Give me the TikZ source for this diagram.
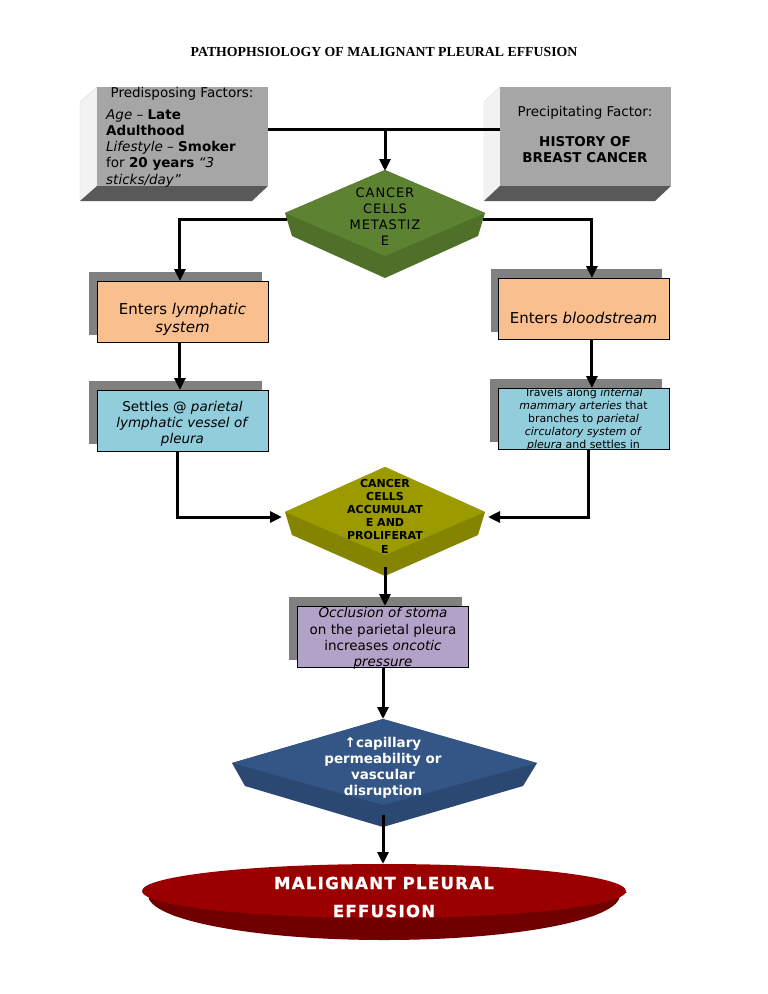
\documentclass[tikz,border=0pt]{standalone}
\usepackage{fontspec}
\setmainfont{DejaVu Sans}
\newfontfamily\titlefont{Liberation Serif}
\newfontfamily\spacedfont[LetterSpace=7]{DejaVu Sans}
\newfontfamily\widefont[LetterSpace=8,FakeBold=1.2]{DejaVu Sans Bold}
\usetikzlibrary{arrows.meta}
\definecolor{facegray}{RGB}{166,166,166}
\definecolor{darkside}{RGB}{89,89,89}
\definecolor{lightside}{RGB}{242,242,242}
\definecolor{shadowgray}{RGB}{128,128,128}
\definecolor{peach}{RGB}{250,191,143}
\definecolor{lblue}{RGB}{146,205,220}
\definecolor{lpurple}{RGB}{179,162,199}
\definecolor{greentop}{RGB}{92,130,50}
\definecolor{greenlow}{RGB}{78,112,40}
\definecolor{olivetop}{RGB}{155,155,0}
\definecolor{olivelow}{RGB}{132,132,0}
\definecolor{bluetop}{RGB}{52,86,134}
\definecolor{bluelow}{RGB}{42,72,114}
\definecolor{redtop}{RGB}{155,0,0}
\definecolor{redlow}{RGB}{112,0,0}
\begin{document}
\begin{tikzpicture}[x=1pt,y=-1pt,
  face/.style={draw=none,fill=facegray,inner sep=0pt,anchor=north west},
  flatbox/.style={draw=black,line width=0.8pt,inner sep=0pt,anchor=north west,
    minimum width=171pt,minimum height=61pt},
  shadowbox/.style={fill=shadowgray,draw=none},
  conn/.style={line width=3pt,draw=black},
  arr/.style={line width=3pt,draw=black,-{Triangle[length=12pt,width=11pt]}},
  txt/.style={inner sep=0pt,font=\fontsize{13.5}{16.3}\selectfont},
  boxtext/.style={inner sep=0pt,align=center,font=\fontsize{13.5}{16.2}\selectfont},
  bigtext/.style={inner sep=0pt,align=center,font=\fontsize{15}{18}\selectfont}
]
\useasboundingbox (0,0) rectangle (768,994);
\fill[white] (0,0) rectangle (768,994);

% title
\node[inner sep=0pt,font=\titlefont\bfseries\fontsize{13.8}{16}\selectfont] (title) at (384,52) {PATHOPHSIOLOGY OF MALIGNANT PLEURAL EFFUSION};

% box 1 (3D)
\filldraw[fill=lightside,draw=lightside!80!gray,line width=0.4pt] (97,87) -- (80,102) -- (80,201) -- (97,186) -- cycle;
\fill[darkside] (97,186) -- (268,186) -- (252,201) -- (80,201) -- cycle;
\node[face,minimum width=171pt,minimum height=99pt] (pre) at (97,87) {};
\node[txt,anchor=base] (preT) at (182,97) {Predisposing Factors:};
\node[txt,anchor=north west,align=left] (preB) at (106,109) {\textit{Age} -- \textbf{Late}\\\textbf{Adulthood}\\\textit{Lifestyle} -- \textbf{Smoker}\\for \textbf{20 years} \textit{“3}\\\textit{sticks/day”}};

% box 2 (3D)
\filldraw[fill=lightside,draw=lightside!80!gray,line width=0.4pt] (500,87) -- (484,102) -- (484,201) -- (500,186) -- cycle;
\fill[darkside] (500,186) -- (671,186) -- (655,201) -- (484,201) -- cycle;
\node[face,minimum width=171pt,minimum height=99pt] (prec) at (500,87) {};
\node[txt] (precT) at (585,113) {Precipitating Factor:};
\node[txt,align=center,font=\fontsize{13.5}{16}\selectfont\bfseries] (precB) at (585,150) {HISTORY OF\\BREAST CANCER};

% diamond 1
\fill[greenlow] (385,170) -- (485,213) -- (478,236) -- (385,278) -- (292,236) -- (285,213) -- cycle;
\fill[greentop] (385,170) -- (485,213) -- (385,256) -- (285,213) -- cycle;
\coordinate (d1T) at (385,171);
\coordinate (d1L) at (287,219);
\coordinate (d1R) at (483,219);
\node[inner sep=0pt,align=center,font=\spacedfont\fontsize{13}{16}\selectfont] (d1) at (385,217) {CANCER\\CELLS\\METASTIZ\\E};

% junction
\coordinate (j) at (385,129);
\draw[conn] (pre.east |- j) -- (prec.west |- j);
\draw[arr] (j) -- (d1T);

% left column
\fill[shadowbox] (89,272) rectangle (262,335);
\node[flatbox,fill=peach] (lymph) at (97,281) {};
\node[bigtext] (lymphT) at (182.5,319) {Enters \textit{lymphatic}\\\textit{system}};
\fill[shadowbox] (89,381) rectangle (262,444);
\node[flatbox,fill=lblue] (settle) at (97,390) {};
\node[boxtext] (settleT) at (182.5,424) {Settles @ \textit{parietal}\\\textit{lymphatic vessel of}\\\textit{pleura}};

% right column
\fill[shadowbox] (491,269) rectangle (662,332);
\node[flatbox,fill=peach] (blood) at (498,278) {};
\node[bigtext] (bloodT) at (583.5,318) {Enters \textit{bloodstream}};
\fill[shadowbox] (490,379) rectangle (662,442);
\node[flatbox,fill=lblue] (travel) at (498,388) {};
\begin{scope}
\clip (498,388.5) rectangle (669,449);
\node[inner sep=0pt,align=center,font=\fontsize{11}{13.1}\selectfont,anchor=north] (travelT) at (583.5,388) {Travels along \textit{internal}\\\textit{mammary arteries} that\\branches to \textit{parietal}\\\textit{circulatory system of}\\\textit{pleura} and settles in};
\end{scope}

% diamond 2
\fill[olivelow] (385,467) -- (485,512) -- (478,535) -- (385,576) -- (292,535) -- (285,512) -- cycle;
\fill[olivetop] (385,467) -- (485,512) -- (385,555) -- (285,512) -- cycle;
\coordinate (d2L) at (282,517);
\coordinate (d2R) at (488,517);
\coordinate (d2B) at (385,567);
\node[inner sep=0pt,align=center,font=\fontsize{11}{13.2}\selectfont\bfseries] (d2) at (385,516) {CANCER\\CELLS\\ACCUMULAT\\E AND\\PROLIFERAT\\E};

% connectors
\draw[arr] (d1L) -| ([xshift=-3pt]lymph.north);
\draw[arr] (d1R) -| ([xshift=8pt]blood.north);
\draw[arr] ([xshift=-3pt]lymph.south) -- ([xshift=-3pt]settle.north);
\draw[arr] ([xshift=8pt]blood.south) -- ([xshift=8pt]travel.north);
\draw[arr] ([xshift=-5pt]settle.south) |- (d2L);
\draw[arr] ([xshift=5pt]travel.south) |- (d2R);

% box 7
\fill[shadowbox] (289,597) rectangle (462,660);
\node[flatbox,fill=lpurple] (occl) at (297,606) {};
\node[boxtext] (occlT) at (383,638.5) {\textit{Occlusion of stoma}\\on the parietal pleura\\increases \textit{oncotic}\\\textit{pressure}};
\draw[arr] (d2B) -- (occl.north -| d2B);

% diamond 3
\fill[bluelow] (383,719) -- (537,763) -- (523,786) -- (383,827) -- (245,786) -- (232,763) -- cycle;
\fill[bluetop] (383,719) -- (537,763) -- (383,805) -- (232,763) -- cycle;
\coordinate (d3T) at (383,719);
\coordinate (d3B) at (383,815);
\node[inner sep=0pt,align=center,text=white,font=\fontsize{13.5}{16}\selectfont\bfseries] (d3) at (383,768) {\char"2191capillary\\permeability or\\vascular\\disruption};
\draw[arr] (occl.south -| d3T) -- (d3T);

% final ellipse
\begin{scope}
\clip (100,891) rectangle (668,950);
\fill[redlow] (384,895) ellipse [x radius=236pt, y radius=45pt];
\fill[redlow] (142,892) -- (175,916) -- (593,916) -- (627,892) -- cycle;
\end{scope}
\fill[redtop] (384,891) ellipse [x radius=242pt, y radius=27pt];
\coordinate (eT) at (383,864);
\node[inner sep=0pt,align=center,text=white,font=\widefont\fontsize{16.5}{28}\selectfont] (eff) at (384,897) {MALIGNANT PLEURAL\\EFFUSION};
\draw[arr] (d3B) -- (eT);
\end{tikzpicture}
\end{document}
